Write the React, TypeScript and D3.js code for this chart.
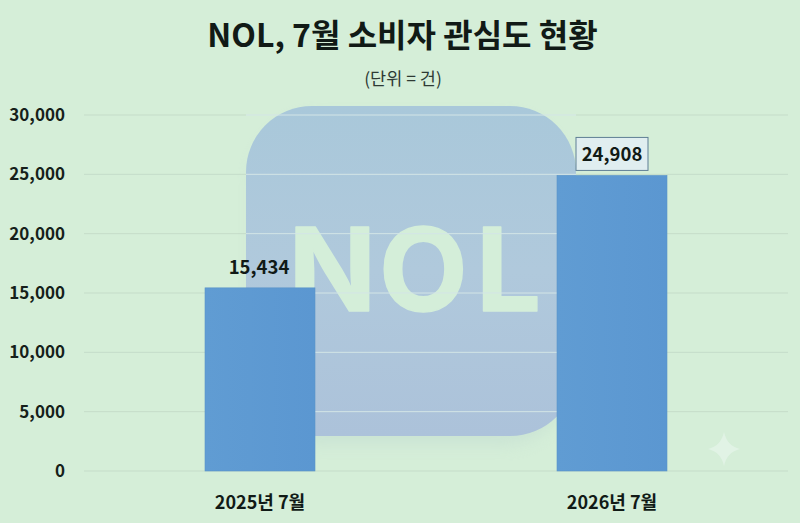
import React from "react";
import * as d3 from "d3";

const categories = ["2025년 7월", "2026년 7월"];
const values = [15434, 24908];
const yTicks = [0, 5000, 10000, 15000, 20000, 25000, 30000];
const titleText = "NOL, 7월 소비자 관심도 현황";
const unitText = "(단위 = 건)";
const logoText = "NOL";

const W = 800, H = 523;
const font = "'Noto Sans CJK KR','Noto Sans',sans-serif";

export default function App() {
  const y = d3.scaleLinear().domain([0, 30000]).range([471, 115]);
  const x = d3.scaleBand<string>().domain(categories).range([84, 788]).paddingInner(0.6875).paddingOuter(0.34375);
  const fmt = d3.format(",");
  return (
    <svg width={W} height={H} viewBox={`0 0 ${W} ${H}`} style={{ position: "absolute", left: 0, top: 0, display: "block" }}>
      <defs>
        <linearGradient id="logoG" x1="0" y1="0" x2="0" y2="1">
          <stop offset="0" stopColor="#a9c8da" />
          <stop offset="0.5" stopColor="#b0c9dc" />
          <stop offset="1" stopColor="#acc2da" />
        </linearGradient>
        <linearGradient id="barG" x1="0" y1="0" x2="1" y2="0">
          <stop offset="0" stopColor="#609cd3" />
          <stop offset="1" stopColor="#5b97d1" />
        </linearGradient>
        <filter id="sh" x="-20%" y="-20%" width="140%" height="140%">
          <feGaussianBlur stdDeviation="9" />
        </filter>
      </defs>
      <rect width={W} height={H} fill="#d5eed8" />
      <rect x={254} y={118} width={314} height={326} rx={64} fill="#bcd6cf" opacity={0.45} filter="url(#sh)" />
      <rect x={246} y={106} width={330} height={330} rx={66} fill="url(#logoG)" />
      <text x="288.5 379 476" y={311} fontFamily="Inter, 'Noto Sans', sans-serif" fontWeight={700} fontSize={115}
        fill="#d4eed9" stroke="#d4eed9" strokeWidth={1.5} strokeLinejoin="round">{logoText}</text>

      {yTicks.map((t) => (
        <g key={t}>
          <line x1={84} x2={246} y1={y(t)} y2={y(t)} stroke="#c5dcc9" strokeWidth={1} />
          <line x1={246} x2={576} y1={y(t)} y2={y(t)} stroke={t === 0 ? "#c5dcc9" : "#d3e5e6"} strokeWidth={1} />
          <line x1={576} x2={788} y1={y(t)} y2={y(t)} stroke="#c5dcc9" strokeWidth={1} />
          <text x={65} y={y(t)} dy="0.36em" textAnchor="end" fontFamily={font} fontWeight={700} fontSize={17} fill="#161f1a">{fmt(t)}</text>
        </g>
      ))}

      {categories.map((c, i) => {
        const bx = x(c)!;
        const cx = bx + x.bandwidth() / 2;
        return (
          <g key={c}>
            <rect x={bx} y={y(values[i])} width={x.bandwidth()} height={471 - y(values[i])} fill="url(#barG)" stroke="#5a94c8" strokeWidth={0.6} />
            {i === 1 && <rect x={cx - 36} y={y(values[i]) - 38} width={72} height={33} fill="#e0eef0" stroke="#5f7f95" strokeWidth={1} />}
            <text x={cx - (i === 0 ? 1 : 0)} y={y(values[i]) - 14} textAnchor="middle" fontFamily={font} fontWeight={700} fontSize={18.5} fill="#111a16">{fmt(values[i])}</text>
            <text x={cx} y={509} textAnchor="middle" fontFamily={font} fontWeight={700} fontSize={18} fill="#111a16">{c}</text>
          </g>
        );
      })}

      <path d="M724 432 Q727 446 740 449 Q727 452 724 466 Q721 452 708 449 Q721 446 724 432Z" fill="#e1f3e5" />
      <text x={402.5} y={47} textAnchor="middle" fontFamily={font} fontWeight={700} fontSize={32} fill="#111a16">{titleText}</text>
      <text x={403} y={85} textAnchor="middle" fontFamily={font} fontSize={17.5} fill="#2e3a34">{unitText}</text>
    </svg>
  );
}
